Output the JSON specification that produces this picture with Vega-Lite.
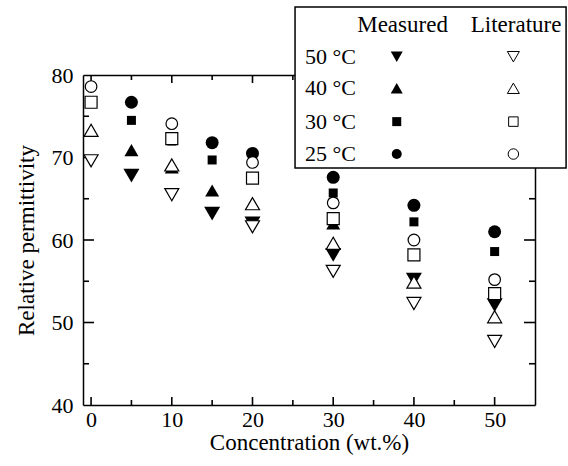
{
  "$schema": "https://vega.github.io/schema/vega-lite/v6.json",
  "width": 452,
  "height": 330,
  "autosize": {"type": "none"},
  "padding": {"left": 83, "top": 75, "right": 33, "bottom": 61},
  "background": "white",
  "config": {
    "view": {"stroke": null},
    "font": "Liberation Serif",
    "axis": {
      "grid": false,
      "ticks": false,
      "domainColor": "black",
      "domainWidth": 1.5,
      "labelColor": "black",
      "labelFont": "Liberation Serif",
      "labelFontSize": 22,
      "titleFont": "Liberation Serif",
      "titleFontSize": 23,
      "titleFontWeight": "normal",
      "titleColor": "black"
    }
  },
  "datasets": {
    "measured": [
      {"conc": 5, "eps": 76.7, "temp": "25"},
      {"conc": 15, "eps": 71.8, "temp": "25"},
      {"conc": 20, "eps": 70.5, "temp": "25"},
      {"conc": 30, "eps": 67.6, "temp": "25"},
      {"conc": 40, "eps": 64.2, "temp": "25"},
      {"conc": 50, "eps": 61.0, "temp": "25"},
      {"conc": 5, "eps": 74.5, "temp": "30"},
      {"conc": 10, "eps": 72.0, "temp": "30"},
      {"conc": 15, "eps": 69.7, "temp": "30"},
      {"conc": 30, "eps": 65.7, "temp": "30"},
      {"conc": 40, "eps": 62.2, "temp": "30"},
      {"conc": 50, "eps": 58.6, "temp": "30"},
      {"conc": 5, "eps": 70.9, "temp": "40"},
      {"conc": 10, "eps": 68.8, "temp": "40"},
      {"conc": 15, "eps": 66.0, "temp": "40"},
      {"conc": 30, "eps": 62.0, "temp": "40"},
      {"conc": 5, "eps": 67.8, "temp": "50"},
      {"conc": 15, "eps": 63.2, "temp": "50"},
      {"conc": 20, "eps": 62.0, "temp": "50"},
      {"conc": 30, "eps": 58.2, "temp": "50"},
      {"conc": 40, "eps": 55.2, "temp": "50"},
      {"conc": 50, "eps": 52.1, "temp": "50"}
    ],
    "literature": [
      {"conc": 0, "eps": 78.6, "temp": "25"},
      {"conc": 10, "eps": 74.1, "temp": "25"},
      {"conc": 20, "eps": 69.4, "temp": "25"},
      {"conc": 30, "eps": 64.5, "temp": "25"},
      {"conc": 40, "eps": 60.0, "temp": "25"},
      {"conc": 50, "eps": 55.2, "temp": "25"},
      {"conc": 0, "eps": 76.7, "temp": "30"},
      {"conc": 10, "eps": 72.3, "temp": "30"},
      {"conc": 20, "eps": 67.5, "temp": "30"},
      {"conc": 30, "eps": 62.6, "temp": "30"},
      {"conc": 40, "eps": 58.2, "temp": "30"},
      {"conc": 50, "eps": 53.5, "temp": "30"},
      {"conc": 0, "eps": 73.3, "temp": "40"},
      {"conc": 10, "eps": 69.1, "temp": "40"},
      {"conc": 20, "eps": 64.4, "temp": "40"},
      {"conc": 30, "eps": 59.6, "temp": "40"},
      {"conc": 40, "eps": 54.9, "temp": "40"},
      {"conc": 50, "eps": 50.7, "temp": "40"},
      {"conc": 0, "eps": 69.6, "temp": "50"},
      {"conc": 10, "eps": 65.5, "temp": "50"},
      {"conc": 20, "eps": 61.6, "temp": "50"},
      {"conc": 30, "eps": 56.2, "temp": "50"},
      {"conc": 40, "eps": 52.3, "temp": "50"},
      {"conc": 50, "eps": 47.7, "temp": "50"}
    ],
    "xMajor": [{"v": 0}, {"v": 10}, {"v": 20}, {"v": 30}, {"v": 40}, {"v": 50}],
    "xMinor": [{"v": 5}, {"v": 15}, {"v": 25}, {"v": 35}, {"v": 45}],
    "yMajor": [{"v": 50}, {"v": 60}, {"v": 70}],
    "yMinor": [{"v": 45}, {"v": 55}, {"v": 65}, {"v": 75}],
    "legendBox": [{"bx1": 25.27, "bx2": 58.85, "by1": 88.24, "by2": 68.73}],
    "legendHeaders": [
      {"hx": 38.59, "hy": 86.06, "text": "Measured"},
      {"hx": 52.66, "hy": 86.06, "text": "Literature"}
    ],
    "legendRows": [
      {"lx": 26.51, "mx": 37.87, "ox": 52.32, "ly": 82.22, "temp": "50", "label": "50 °C"},
      {"lx": 26.51, "mx": 37.87, "ox": 52.32, "ly": 78.39, "temp": "40", "label": "40 °C"},
      {"lx": 26.51, "mx": 37.87, "ox": 52.32, "ly": 74.35, "temp": "30", "label": "30 °C"},
      {"lx": 26.51, "mx": 37.87, "ox": 52.32, "ly": 70.42, "temp": "25", "label": "25 °C"}
    ]
  },
  "resolve": {
    "scale": {"size": "independent"},
    "axis": {"x": "independent", "y": "independent"}
  },
  "layer": [
    {
      "data": {"name": "xMajor"},
      "mark": {"type": "rule", "color": "black", "strokeWidth": 1.6},
      "encoding": {
        "x": {"field": "v", "type": "quantitative", "scale": {"domain": [-1, 55], "nice": false, "zero": false}, "axis": null},
        "y": {"datum": 40, "type": "quantitative", "scale": {"domain": [40, 80], "nice": false, "zero": false}, "axis": null},
        "y2": {"datum": 40.97}
      }
    },
    {
      "data": {"name": "xMinor"},
      "mark": {"type": "rule", "color": "black", "strokeWidth": 1.6},
      "encoding": {
        "x": {"field": "v", "type": "quantitative", "axis": null},
        "y": {"datum": 40, "type": "quantitative", "axis": null},
        "y2": {"datum": 40.61}
      }
    },
    {
      "data": {"name": "xMajor"},
      "mark": {"type": "rule", "color": "black", "strokeWidth": 1.6},
      "encoding": {
        "x": {"field": "v", "type": "quantitative", "axis": null},
        "y": {"datum": 80, "type": "quantitative", "axis": null},
        "y2": {"datum": 79.03}
      }
    },
    {
      "data": {"name": "xMinor"},
      "mark": {"type": "rule", "color": "black", "strokeWidth": 1.6},
      "encoding": {
        "x": {"field": "v", "type": "quantitative", "axis": null},
        "y": {"datum": 80, "type": "quantitative", "axis": null},
        "y2": {"datum": 79.39}
      }
    },
    {
      "data": {"name": "yMajor"},
      "mark": {"type": "rule", "color": "black", "strokeWidth": 1.6},
      "encoding": {
        "y": {"field": "v", "type": "quantitative", "axis": null},
        "x": {"datum": -1, "type": "quantitative", "axis": null},
        "x2": {"datum": 0.36}
      }
    },
    {
      "data": {"name": "yMinor"},
      "mark": {"type": "rule", "color": "black", "strokeWidth": 1.6},
      "encoding": {
        "y": {"field": "v", "type": "quantitative", "axis": null},
        "x": {"datum": -1, "type": "quantitative", "axis": null},
        "x2": {"datum": -0.26}
      }
    },
    {
      "data": {"name": "yMajor"},
      "mark": {"type": "rule", "color": "black", "strokeWidth": 1.6},
      "encoding": {
        "y": {"field": "v", "type": "quantitative", "axis": null},
        "x": {"datum": 55, "type": "quantitative", "axis": null},
        "x2": {"datum": 53.64}
      }
    },
    {
      "data": {"name": "yMinor"},
      "mark": {"type": "rule", "color": "black", "strokeWidth": 1.6},
      "encoding": {
        "y": {"field": "v", "type": "quantitative", "axis": null},
        "x": {"datum": 55, "type": "quantitative", "axis": null},
        "x2": {"datum": 54.26}
      }
    },
    {
      "data": {"name": "measured"},
      "mark": {"type": "point", "filled": true, "fill": "black", "stroke": null, "opacity": 1},
      "encoding": {
        "x": {
          "field": "conc", "type": "quantitative",
          "axis": {
            "orient": "bottom",
            "title": "Concentration (wt.%)",
            "tickCount": 6,
            "ticks": false,
            "tickSize": 0,
            "labelPadding": 4,
            "titlePadding": 1
          }
        },
        "y": {
          "field": "eps", "type": "quantitative",
          "axis": {
            "orient": "left",
            "title": "Relative permittivity",
            "tickCount": 4,
            "ticks": false,
            "tickSize": 0,
            "labelPadding": 10,
            "titlePadding": 13
          }
        },
        "shape": {
          "field": "temp", "type": "nominal",
          "scale": {"domain": ["25", "30", "40", "50"], "range": ["circle", "square", "triangle-up", "triangle-down"]},
          "legend": null
        },
        "size": {
          "field": "temp", "type": "nominal",
          "scale": {"type": "ordinal", "domain": ["25", "30", "40", "50"], "range": [169, 81, 196, 256]},
          "legend": null
        }
      }
    },
    {
      "data": {"name": "literature"},
      "mark": {"type": "point", "filled": true, "fill": "white", "stroke": "black", "strokeWidth": 1.2, "opacity": 1},
      "encoding": {
        "x": {
          "field": "conc", "type": "quantitative",
          "axis": {"orient": "top", "title": null, "labels": false, "ticks": false, "tickCount": 6}
        },
        "y": {
          "field": "eps", "type": "quantitative",
          "axis": {"orient": "right", "title": null, "labels": false, "ticks": false, "tickCount": 4}
        },
        "shape": {"field": "temp", "type": "nominal", "legend": null},
        "size": {
          "field": "temp", "type": "nominal",
          "scale": {"type": "ordinal", "domain": ["25", "30", "40", "50"], "range": [135, 144, 196, 196]},
          "legend": null
        }
      }
    },
    {
      "data": {"name": "legendBox"},
      "mark": {"type": "rect", "fill": "white", "stroke": "black", "strokeWidth": 1.5},
      "encoding": {
        "x": {"field": "bx1", "type": "quantitative", "axis": null},
        "x2": {"field": "bx2"},
        "y": {"field": "by1", "type": "quantitative", "axis": null},
        "y2": {"field": "by2"}
      }
    },
    {
      "data": {"name": "legendHeaders"},
      "mark": {"type": "text", "align": "center", "baseline": "middle", "font": "Liberation Serif", "fontSize": 23, "color": "black"},
      "encoding": {
        "x": {"field": "hx", "type": "quantitative", "axis": null},
        "y": {"field": "hy", "type": "quantitative", "axis": null},
        "text": {"field": "text"}
      }
    },
    {
      "data": {"name": "legendRows"},
      "mark": {"type": "text", "align": "left", "baseline": "middle", "font": "Liberation Serif", "fontSize": 22, "color": "black"},
      "encoding": {
        "x": {"field": "lx", "type": "quantitative", "axis": null},
        "y": {"field": "ly", "type": "quantitative", "axis": null},
        "text": {"field": "label"}
      }
    },
    {
      "data": {"name": "legendRows"},
      "mark": {"type": "point", "filled": true, "fill": "black", "stroke": null, "opacity": 1},
      "encoding": {
        "x": {"field": "mx", "type": "quantitative", "axis": null},
        "y": {"field": "ly", "type": "quantitative", "axis": null},
        "shape": {"field": "temp", "type": "nominal", "legend": null},
        "size": {
          "field": "temp", "type": "nominal",
          "scale": {"type": "ordinal", "domain": ["25", "30", "40", "50"], "range": [100, 81, 144, 144]},
          "legend": null
        }
      }
    },
    {
      "data": {"name": "legendRows"},
      "mark": {"type": "point", "filled": true, "fill": "white", "stroke": "black", "strokeWidth": 1, "opacity": 1},
      "encoding": {
        "x": {"field": "ox", "type": "quantitative", "axis": null},
        "y": {"field": "ly", "type": "quantitative", "axis": null},
        "shape": {"field": "temp", "type": "nominal", "legend": null},
        "size": {
          "field": "temp", "type": "nominal",
          "scale": {"type": "ordinal", "domain": ["25", "30", "40", "50"], "range": [110, 90, 144, 144]},
          "legend": null
        }
      }
    }
  ]
}
